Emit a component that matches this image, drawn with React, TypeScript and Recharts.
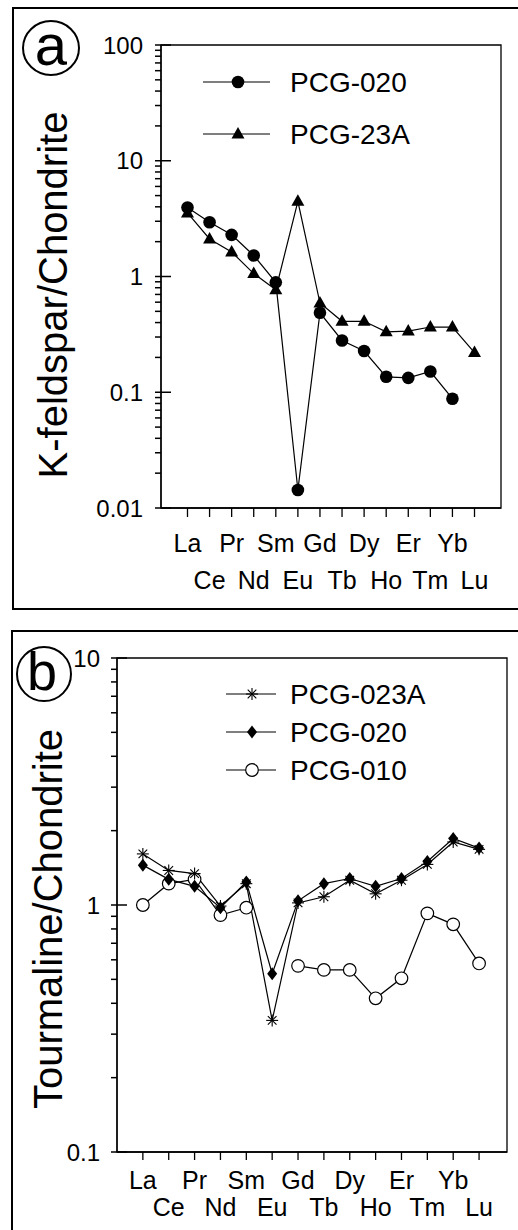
import React from 'react';
import { LineChart, Line, XAxis, YAxis, ReferenceArea, Legend } from 'recharts';

const FONT = '"Liberation Sans", Arial, Helvetica, sans-serif';

const elements = ['La', 'Ce', 'Pr', 'Nd', 'Sm', 'Eu', 'Gd', 'Tb', 'Dy', 'Ho', 'Er', 'Tm', 'Yb', 'Lu'];
const xTicks = [0, 1, 2, 3, 4, 5, 6, 7, 8, 9, 10, 11, 12, 13];

// (a) K-feldspar / chondrite
const kfsPCG020 = [3.95, 2.94, 2.29, 1.52, 0.89, 0.0143, 0.486, 0.28, 0.227, 0.136, 0.133, 0.151, 0.088, null];
const kfsPCG23A = [3.54, 2.11, 1.63, 1.06, 0.77, 4.46, 0.59, 0.41, 0.41, 0.333, 0.338, 0.366, 0.366, 0.22];

// (b) Tourmaline / chondrite
const tmlPCG023A = [1.61, 1.38, 1.34, 0.99, 1.22, 0.341, 1.02, 1.08, 1.26, 1.11, 1.26, 1.46, 1.8, 1.68];
const tmlPCG020 = [1.45, 1.27, 1.19, 0.975, 1.24, 0.527, 1.04, 1.22, 1.28, 1.19, 1.28, 1.5, 1.86, 1.7];
const tmlPCG010 = [1.0, 1.22, 1.27, 0.91, 0.975, null, 0.567, 0.546, 0.546, 0.419, 0.505, 0.925, 0.835, 0.58];

// log axis ticks
const yMajorA = [0.01, 0.1, 1, 10, 100];
const yLabelsA = ['0.01', '0.1', '1', '10', '100'];
const yMajorB = [0.1, 1, 10];
const yLabelsB = ['0.1', '1', '10'];
const minorSteps = [2, 3, 4, 5, 6, 7, 8, 9];

const withMinors = (majors: number[]) => {
  const out: number[] = [...majors];
  majors.slice(0, -1).forEach((d) => minorSteps.forEach((s) => out.push(d * s)));
  return out;
};

const dataA = elements.map((el, i) => ({ idx: i, el, pcg020: kfsPCG020[i], pcg23a: kfsPCG23A[i] }));
const dataB = elements.map((el, i) => ({
  idx: i,
  el,
  pcg023a: tmlPCG023A[i],
  pcg020: tmlPCG020[i],
  pcg010: tmlPCG010[i],
}));

// marker shapes
const FilledCircle = ({ cx, cy }: any) => <circle cx={cx} cy={cy} r={6.3} fill="#000" />;
const Triangle = ({ cx, cy }: any) => (
  <polygon points={`${cx},${cy - 7} ${cx - 6.5},${cy + 4.5} ${cx + 6.5},${cy + 4.5}`} fill="#000" />
);
const Diamond = ({ cx, cy }: any) => (
  <polygon points={`${cx},${cy - 6.5} ${cx + 5},${cy} ${cx},${cy + 6.5} ${cx - 5},${cy}`} fill="#000" />
);
const OpenCircle = ({ cx, cy }: any) => <circle cx={cx} cy={cy} r={6.3} fill="#fff" stroke="#000" strokeWidth={1.2} />;
const Star = ({ cx, cy }: any) => {
  const r = 6;
  const d = r * 0.72;
  return (
    <g stroke="#000" strokeWidth={1.1}>
      <line x1={cx} y1={cy - r} x2={cx} y2={cy + r} />
      <line x1={cx - r} y1={cy} x2={cx + r} y2={cy} />
      <line x1={cx - d} y1={cy - d} x2={cx + d} y2={cy + d} />
      <line x1={cx - d} y1={cy + d} x2={cx + d} y2={cy - d} />
    </g>
  );
};

const dotOf = (Shape: any) => (p: any) =>
  p.cy == null || isNaN(p.cy) ? <g key={`d-${p.index}`} /> : <Shape key={`d-${p.index}`} cx={p.cx} cy={p.cy} />;

const makeXTick = (dy1: number, dy2: number) => (p: any) => {
  const i = p.payload.value;
  return (
    <text x={p.x} y={p.y + (i % 2 === 0 ? dy1 : dy2)} textAnchor="middle" fontSize={25} fontFamily={FONT} fill="#000">
      {elements[i]}
    </text>
  );
};

// log ticks: short outward mark for minors, inward mark plus label for decades
const makeYTick = (majors: number[], labels: string[], gap: number) => (p: any) => {
  const v = p.payload.value;
  const k = majors.findIndex((m) => Math.abs(m - v) < m * 1e-6);
  if (k < 0) {
    return <path d={`M${p.x - 6},${p.y}H${p.x}`} stroke="#000" strokeWidth={1.5} fill="none" />;
  }
  return (
    <g>
      <path d={`M${p.x - 6},${p.y}H${p.x + 10}`} stroke="#000" strokeWidth={1.5} fill="none" />
      <text x={p.x - gap} y={p.y} dy="0.36em" textAnchor="end" fontSize={24} fontFamily={FONT} fill="#000">
        {labels[k]}
      </text>
    </g>
  );
};

const makeLegend = (items: { name: string; Shape: any }[], x0: number, x1: number, xm: number, xt: number, rowGap: number, fs: number) =>
  () => (
    <svg width={300} height={items.length * rowGap + 20}>
      {items.map((it, i) => {
        const y = 22 + i * rowGap;
        return (
          <g key={it.name}>
            <line x1={x0} y1={y} x2={x1} y2={y} stroke="#000" strokeWidth={1.2} />
            <it.Shape cx={xm} cy={y} />
            <text x={xt} y={y} dy="0.36em" fontSize={fs} fontFamily={FONT} fill="#000">
              {it.name}
            </text>
          </g>
        );
      })}
    </svg>
  );

const legendA = [
  { name: 'PCG-020', Shape: FilledCircle },
  { name: 'PCG-23A', Shape: Triangle },
];
const legendB = [
  { name: 'PCG-023A', Shape: Star },
  { name: 'PCG-020', Shape: Diamond },
  { name: 'PCG-010', Shape: OpenCircle },
];

const axisStroke = { stroke: '#000', strokeWidth: 1.3 };

export default function App() {
  return (
    <div style={{ position: 'absolute', left: 0, top: 0, width: 518, height: 1230, overflow: 'hidden', background: '#fff' }}>
      <div style={{ position: 'absolute', left: 12, top: 7, width: 520, height: 599, borderTop: '2px solid #000', borderLeft: '2px solid #000', borderBottom: '2px solid #000' }} />
      <div style={{ position: 'absolute', left: 11, top: 630, width: 520, height: 620, borderTop: '2px solid #000', borderLeft: '2px solid #000' }} />

      <div style={{ position: 'absolute', left: 0, top: 0 }}>
        <LineChart width={518} height={610} data={dataA} margin={{ top: 45, right: 17, left: 0, bottom: 12 }}>
          <ReferenceArea x1={-1.2} x2={14.2} y1={0.01} y2={100} fill="none" stroke="#000" strokeWidth={1.3} ifOverflow="visible" />
          <XAxis type="number" dataKey="idx" domain={[-1.2, 14.2]} allowDataOverflow ticks={xTicks} interval={0}
            tickSize={9} tickMargin={0} tickLine={{ stroke: '#000', strokeWidth: 1.3 }} axisLine={axisStroke}
            tick={makeXTick(35, 72)} height={90} />
          <YAxis type="number" scale="log" domain={[0.01, 100]} allowDataOverflow ticks={withMinors(yMajorA)} interval={0}
            tickSize={0} tickMargin={0} tickLine={false} axisLine={axisStroke}
            tick={makeYTick(yMajorA, yLabelsA, 18)} width={161} />
          <Legend layout="vertical" align="center" verticalAlign="middle"
            wrapperStyle={{ left: 195, top: 60, width: 300, height: 120 }}
            content={makeLegend(legendA, 8, 75, 43, 95, 52, 28)} />
          <Line dataKey="pcg23a" name="PCG-23A" stroke="#000" strokeWidth={1.2} dot={dotOf(Triangle)} activeDot={false} isAnimationActive={false} />
          <Line dataKey="pcg020" name="PCG-020" stroke="#000" strokeWidth={1.2} dot={dotOf(FilledCircle)} activeDot={false} isAnimationActive={false} />
        </LineChart>
      </div>

      <div style={{ position: 'absolute', left: 0, top: 620 }}>
        <LineChart width={518} height={610} data={dataB} margin={{ top: 38, right: 11, left: 0, bottom: 8 }}>
          <ReferenceArea x1={-1} x2={14.08} y1={0.1} y2={10} fill="none" stroke="#000" strokeWidth={1.3} ifOverflow="visible" />
          <XAxis type="number" dataKey="idx" domain={[-1, 14.08]} allowDataOverflow ticks={xTicks} interval={0}
            tickSize={8} tickMargin={0} tickLine={{ stroke: '#000', strokeWidth: 1.3 }} axisLine={axisStroke}
            tick={makeXTick(29, 56)} height={70} />
          <YAxis type="number" scale="log" domain={[0.1, 10]} allowDataOverflow ticks={withMinors(yMajorB)} interval={0}
            tickSize={0} tickMargin={0} tickLine={false} axisLine={axisStroke}
            tick={makeYTick(yMajorB, yLabelsB, 17)} width={117} />
          <Legend layout="vertical" align="center" verticalAlign="middle"
            wrapperStyle={{ left: 220, top: 52, width: 300, height: 140 }}
            content={makeLegend(legendB, 6, 56, 32, 70, 38, 28)} />
          <Line dataKey="pcg010" name="PCG-010" stroke="#000" strokeWidth={1.2} dot={dotOf(OpenCircle)} activeDot={false} isAnimationActive={false} />
          <Line dataKey="pcg020" name="PCG-020" stroke="#000" strokeWidth={1.2} dot={dotOf(Diamond)} activeDot={false} isAnimationActive={false} />
          <Line dataKey="pcg023a" name="PCG-023A" stroke="#000" strokeWidth={1.2} dot={dotOf(Star)} activeDot={false} isAnimationActive={false} />
        </LineChart>
      </div>

      <svg width={518} height={1230} style={{ position: 'absolute', left: 0, top: 0, pointerEvents: 'none' }}>
        <ellipse cx={51} cy={48} rx={28} ry={27} fill="none" stroke="#000" strokeWidth={2} />
        <text x={51} y={65} textAnchor="middle" fontSize={58} fontFamily={FONT}>a</text>
        <circle cx={44} cy={674} r={27} fill="none" stroke="#000" strokeWidth={2} />
        <text x={42} y={690} textAnchor="middle" fontSize={54} fontFamily={FONT}>b</text>
        <text x={67} y={295} transform="rotate(-90 67 295)" textAnchor="middle" fontSize={40} fontFamily={FONT}>
          K-feldspar/Chondrite
        </text>
        <text x={62} y={919} transform="rotate(-90 62 919)" textAnchor="middle" fontSize={40} fontFamily={FONT}>
          Tourmaline/Chondrite
        </text>
      </svg>
    </div>
  );
}
